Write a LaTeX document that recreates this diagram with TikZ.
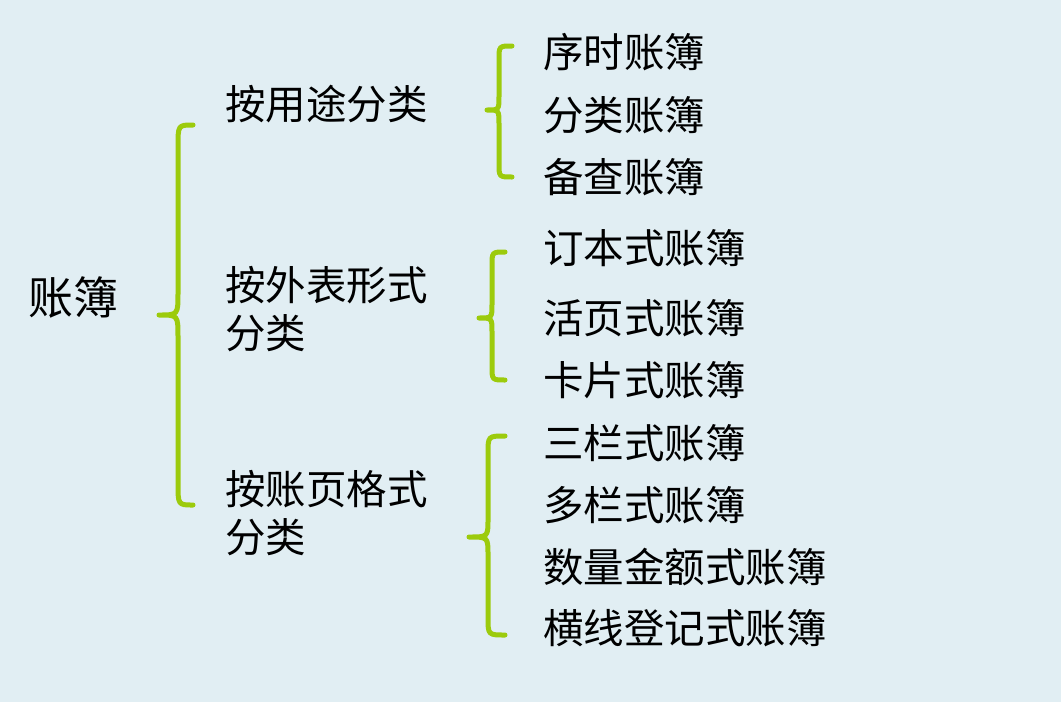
\documentclass[tikz,border=0pt]{standalone}
\usepackage{fontspec}
\setmainfont{Noto Sans CJK SC}
\definecolor{paleblue}{HTML}{E1EEF3}
\definecolor{bracegreen}{HTML}{9CCB0C}

\tikzset{
  kind/.style={anchor=west, inner sep=0pt, align=left, font=\fontsize{40.5}{48.5}\selectfont},
  book/.style={kind},
  root/.style={kind, font=\fontsize{45}{48}\selectfont},
  curly/.style={draw=bracegreen, line width=5pt, line cap=round, line join=round},
}

% #1 end x, #2 line x, #3 tip x, #4 top y, #5 tip y, #6 bottom y, #7 curl
\newcommand{\curlybrace}[7]{
  \draw[curly] (#1,#4) .. controls (#2,#4) .. (#2,#4+#7) -- (#2,#5-#7)
    .. controls (#2,#5) .. (#3,#5) .. controls (#2,#5) .. (#2,#5+#7)
    -- (#2,#6-#7) .. controls (#2,#6) .. (#1,#6);
}

\begin{document}
\begin{tikzpicture}[x=1pt, y=-1pt]
  \fill[paleblue] (0,0) rectangle (1061,702);
  \useasboundingbox (0,0) rectangle (1061,702);

  \node[root] (zhangbu) at (28,297) {账簿};

  \node[kind] (yongtu)  at (225,104) {按用途分类};
  \node[kind] (waibiao) at (225,309) {按外表形式\\分类};
  \node[kind] (zhangye) at (225,513) {按账页格式\\分类};

  \node[book] (xushi)   at (543,52)  {序时账簿};
  \node[book] (fenlei)  at (543,115) {分类账簿};
  \node[book] (beicha)  at (543,177) {备查账簿};
  \node[book] (dingben) at (543,248) {订本式账簿};
  \node[book] (huoye)   at (543,318) {活页式账簿};
  \node[book] (kapian)  at (543,380) {卡片式账簿};
  \node[book] (sanlan)  at (543,443) {三栏式账簿};
  \node[book] (duolan)  at (543,505) {多栏式账簿};
  \node[book] (shuliang) at (543,567) {数量金额式账簿};
  \node[book] (hengxian) at (543,628) {横线登记式账簿};

  \curlybrace{193}{178}{159}{125}{315}{505}{22}
  \curlybrace{512}{499}{487}{46}{110}{177}{14}
  \curlybrace{505}{492}{479}{252}{318}{380}{14}
  \curlybrace{505}{488}{469}{436}{537}{635}{18}
\end{tikzpicture}
\end{document}
